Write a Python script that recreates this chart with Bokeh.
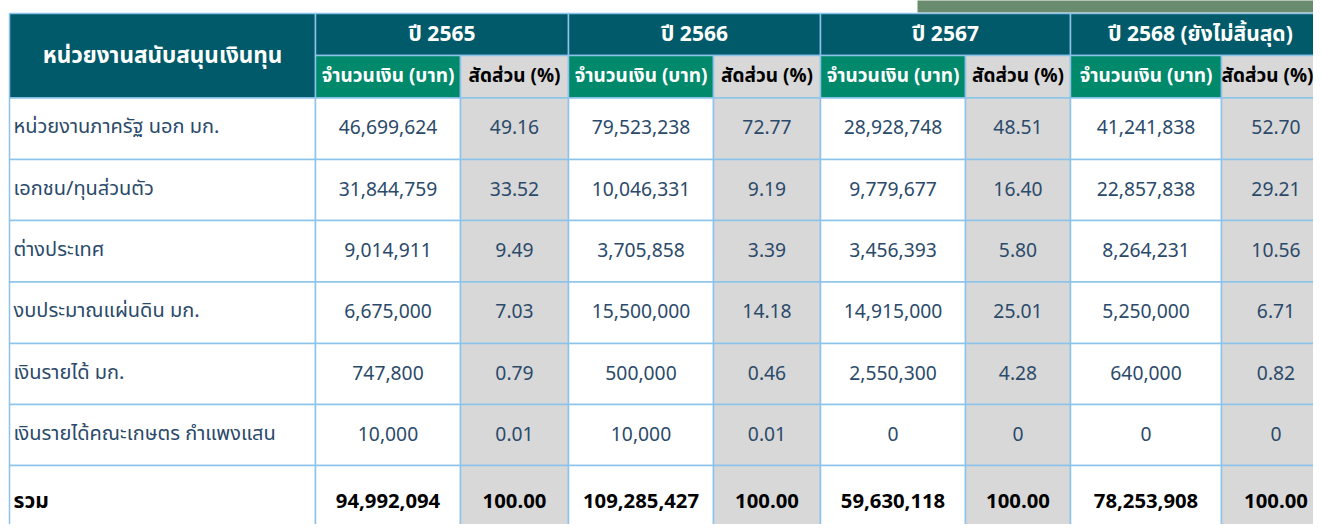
from bokeh.plotting import figure
from bokeh.models import Range1d, ColumnDataSource
from bokeh.core.properties import value
from bokeh.embed import file_html
from bokeh.resources import INLINE

# ---------------- data ----------------
first_header = "หน่วยงานสนับสนุนเงินทุน"
years = ["ปี 2565", "ปี 2566", "ปี 2567", "ปี 2568 (ยังไม่สิ้นสุด)"]
amount_header = "จำนวนเงิน (บาท)"
share_header = "สัดส่วน (%)"
sources = [
    "หน่วยงานภาครัฐ นอก มก.",
    "เอกชน/ทุนส่วนตัว",
    "ต่างประเทศ",
    "งบประมาณแผ่นดิน มก.",
    "เงินรายได้ มก.",
    "เงินรายได้คณะเกษตร กำแพงแสน",
]
total_label = "รวม"
amount_2565 = [46699624, 31844759, 9014911, 6675000, 747800, 10000]
share_2565 = [49.16, 33.52, 9.49, 7.03, 0.79, 0.01]
amount_2566 = [79523238, 10046331, 3705858, 15500000, 500000, 10000]
share_2566 = [72.77, 9.19, 3.39, 14.18, 0.46, 0.01]
amount_2567 = [28928748, 9779677, 3456393, 14915000, 2550300, 0]
share_2567 = [48.51, 16.40, 5.80, 25.01, 4.28, 0]
amount_2568 = [41241838, 22857838, 8264231, 5250000, 640000, 0]
share_2568 = [52.70, 29.21, 10.56, 6.71, 0.82, 0]
total_amount = [94992094, 109285427, 59630118, 78253908]
total_share = [100.00, 100.00, 100.00, 100.00]

amounts = [amount_2565, amount_2566, amount_2567, amount_2568]
shares = [share_2565, share_2566, share_2567, share_2568]

# ---------------- layout / style ----------------
W, H = 1313, 524
COL = [9, 315, 460, 568, 713, 820, 965, 1070, 1221, 1330]
ROW = [13, 55, 97.5, 159, 220, 281.5, 343, 404, 465, 536]
TEAL = "#005a69"
GREEN = "#00896b"
GREY = "#d8d8d8"
BORDER = "#8cc3eb"
TXT = "#2b4a6a"
FONT = value("Noto Sans Thai")
BODY_DY = -1.5


def fmt_amount(v):
    return "0" if v == 0 else f"{v:,}"


def fmt_share(v):
    return "0" if v == 0 else f"{v:.2f}"


p = figure(width=W, height=H, output_backend="svg", toolbar_location=None,
           x_range=Range1d(0, W), y_range=Range1d(H, 0),
           min_border=0, background_fill_color="white", border_fill_color="white",
           outline_line_color=None)
p.axis.visible = False
p.grid.visible = False

# decorative bar at top right
p.quad(left=[917], right=[W + 10], top=[-10], bottom=[12], fill_color="#6a8c6e", line_color=None)

# ---------- cells ----------
L, R, T, B, F = [], [], [], [], []
L.append(COL[0]); R.append(COL[1]); T.append(ROW[0]); B.append(ROW[2]); F.append(TEAL)
for k in range(len(years)):
    L.append(COL[1 + 2 * k]); R.append(COL[3 + 2 * k]); T.append(ROW[0]); B.append(ROW[1]); F.append(TEAL)
    L.append(COL[1 + 2 * k]); R.append(COL[2 + 2 * k]); T.append(ROW[1]); B.append(ROW[2]); F.append(GREEN)
    L.append(COL[2 + 2 * k]); R.append(COL[3 + 2 * k]); T.append(ROW[1]); B.append(ROW[2]); F.append(GREY)
n_rows = len(sources) + 1
for r in range(n_rows):
    for c in range(9):
        L.append(COL[c]); R.append(COL[c + 1]); T.append(ROW[2 + r]); B.append(ROW[3 + r])
        F.append(GREY if (c >= 1 and c % 2 == 0) else "white")
p.quad(source=ColumnDataSource(dict(left=L, right=R, top=T, bottom=B, fill=F)),
       left="left", right="right", top="top", bottom="bottom",
       fill_color="fill", line_color=BORDER, line_width=1.5)


def mid(a, b):
    return (a + b) / 2


# ---------- header texts ----------
p.text(x=[mid(COL[0], COL[1])], y=[mid(ROW[0], ROW[2])], text=[first_header],
       text_font=FONT, text_font_size="22.5px", text_font_style="bold", text_color="white",
       text_align="center", text_baseline="middle")
p.text(x=[mid(COL[1 + 2 * k], COL[3 + 2 * k]) for k in range(len(years))],
       y=[mid(ROW[0], ROW[1])] * len(years), text=years,
       text_font=FONT, text_font_size="21px", text_font_style="bold", text_color="white",
       text_align="center", text_baseline="middle")
p.text(x=[mid(COL[1 + 2 * k], COL[2 + 2 * k]) for k in range(len(years))],
       y=[mid(ROW[1], ROW[2])] * len(years), text=[amount_header] * len(years),
       text_font=FONT, text_font_size="19px", text_font_style="bold", text_color="white",
       text_align="center", text_baseline="middle")
# share header: keep the last one inside the visible page width
share_hx = [min(mid(COL[2 + 2 * k], COL[3 + 2 * k]), mid(COL[2 + 2 * k], W)) for k in range(len(years))]
p.text(x=share_hx,
       y=[mid(ROW[1], ROW[2])] * len(years), text=[share_header] * len(years),
       text_font=FONT, text_font_size="19px", text_font_style="bold", text_color="black",
       text_align="center", text_baseline="middle")

# ---------- body texts ----------
row_y = [mid(ROW[2 + r], ROW[3 + r]) + BODY_DY for r in range(len(sources))]
p.text(x=[COL[0] + 4] * len(sources), y=row_y, text=sources,
       text_font=FONT, text_font_size="20px", text_color=TXT,
       text_align="left", text_baseline="middle")
nx, ny, nt = [], [], []
for k in range(len(years)):
    for r in range(len(sources)):
        nx.append(mid(COL[1 + 2 * k], COL[2 + 2 * k])); ny.append(row_y[r]); nt.append(fmt_amount(amounts[k][r]))
        nx.append(mid(COL[2 + 2 * k], COL[3 + 2 * k])); ny.append(row_y[r]); nt.append(fmt_share(shares[k][r]))
p.text(x=nx, y=ny, text=nt, text_font=FONT, text_font_size="19.3px", text_color=TXT,
       text_align="center", text_baseline="middle")

# ---------- total row ----------
ty = mid(ROW[2 + len(sources)], ROW[3 + len(sources)])
p.text(x=[COL[0] + 4], y=[ty], text=[total_label], text_font=FONT, text_font_size="21px",
       text_font_style="bold", text_color="black", text_align="left", text_baseline="middle")
tx, tt = [], []
for k in range(len(years)):
    tx.append(mid(COL[1 + 2 * k], COL[2 + 2 * k])); tt.append(fmt_amount(total_amount[k]))
    tx.append(mid(COL[2 + 2 * k], COL[3 + 2 * k])); tt.append(f"{total_share[k]:.2f}")
p.text(x=tx, y=[ty] * len(tx), text=tt, text_font=FONT, text_font_size="20.3px",
       text_font_style="bold", text_color="black", text_align="center", text_baseline="middle")

open("out.html", "w").write(file_html(p, INLINE))
